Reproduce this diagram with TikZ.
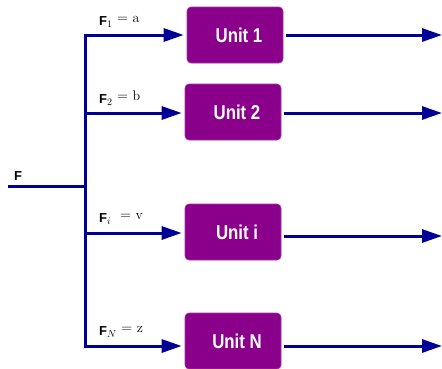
\documentclass[tikz,border=0pt]{standalone}
\usepackage{fontspec}
\setsansfont{Liberation Sans}
\newfontfamily\unitfont[FakeStretch=0.84]{Liberation Sans Bold}
\usetikzlibrary{arrows.meta}
\definecolor{wire}{RGB}{0,0,150}
\definecolor{unitfill}{RGB}{139,0,139}
\tikzset{
  wireline/.style={draw=wire, line width=3pt, line join=miter},
  flow/.style={wireline, -{Triangle[length=20pt,width=13pt]}},
  unitbox/.style={fill=unitfill, draw=unitfill!80!white, line width=0.6pt,
    rounded corners=4pt, minimum width=96pt, minimum height=56pt,
    text=white, font=\unitfont\fontsize{20}{22}\selectfont, inner sep=0pt},
  flabel/.style={anchor=base west, inner sep=0pt, font=\fontsize{14}{16}\selectfont},
}
\newcommand{\Fsym}{{\sffamily\bfseries\fontsize{13}{15}\selectfont F}}
\newcommand{\eqval}[1]{\raisebox{2.5pt}{$=$ #1}}
\begin{document}
\begin{tikzpicture}[x=1pt,y=-1pt]
\useasboundingbox (0,0) rectangle (442,368);

% processing units
\node[unitbox] (u1) at (235,35)  {\hspace{8pt}Unit 1};
\node[unitbox] (u2) at (233,112) {\hspace{8pt}Unit 2};
\node[unitbox] (u3) at (233,232) {\hspace{8pt}Unit i};
\node[unitbox] (u4) at (233,341) {\hspace{8pt}Unit N};

% input and distribution trunk
\coordinate (in) at (8,186);
\coordinate (j)  at (85,186);
\coordinate (b1) at (85,35);
\coordinate (b2) at (85,113);
\coordinate (b3) at (85,233);
\coordinate (b4) at (85,346);

% outputs
\coordinate (o1) at (442,35);
\coordinate (o2) at (442,113);
\coordinate (o3) at (442,236);
\coordinate (o4) at (442,346);

\draw[wireline] (in) -- (j);
\draw[flow, shorten >=3pt] (b4) |- (u1.west);
\draw[flow, shorten >=3pt] (b1) |- (b4 -| u4.west);
\draw[flow, shorten >=3pt] (b2) -- (b2 -| u2.west);
\draw[flow, shorten >=3pt] (b3) -- (b3 -| u3.west);

\draw[flow, shorten <=3pt] (u1.east |- o1) -- (o1);
\draw[flow, shorten <=3pt] (u2.east |- o2) -- (o2);
\draw[flow, shorten <=3pt] (u3.east |- o3) -- (o3);
\draw[flow, shorten <=3pt] (u4.east |- o4) -- (o4);

% labels
\node[flabel] (lf)  at (14,180) {\Fsym};
\node[flabel] (lf1) at (99,25)  {\Fsym$_1$ \eqval{a}};
\node[flabel] (lf2) at (99,103) {\Fsym$_2$ \eqval{b}};
\node[flabel] (lf3) at (99,222) {\Fsym$_i$ \ \eqval{v}};
\node[flabel] (lf4) at (99,335) {\Fsym$_N$ \eqval{z}};
\end{tikzpicture}
\end{document}
